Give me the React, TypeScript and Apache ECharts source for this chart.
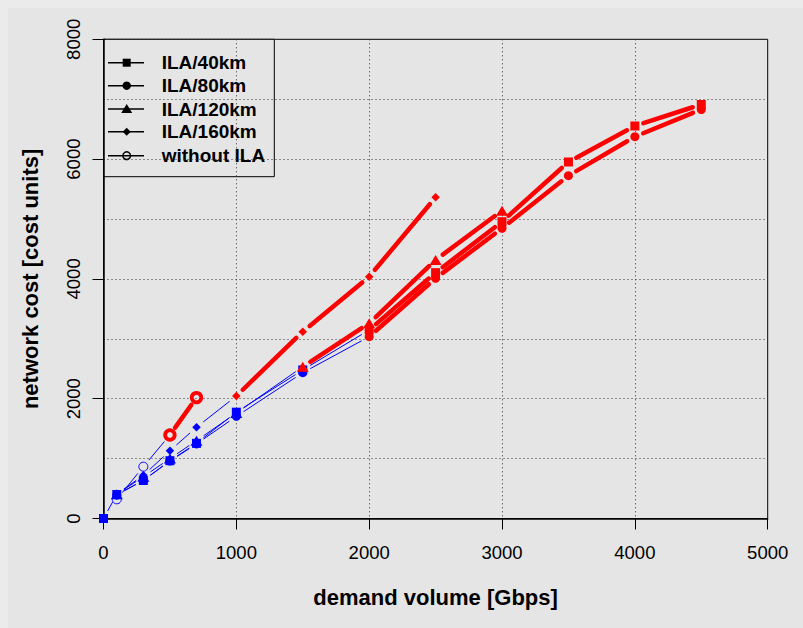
import React, { useEffect, useRef } from "react";
import * as echarts from "echarts";

// ---- data ----
const xTicks = [0, 1000, 2000, 3000, 4000, 5000];
const yTicks = [0, 2000, 4000, 6000, 8000];

const ila40X = [0, 100, 300, 500, 700, 1000, 1500, 2000, 2500, 3000, 3500, 4000, 4500];
const ila40Y = [0, 401, 634, 965, 1255, 1775, 2480, 3147, 4104, 4955, 5952, 6553, 6912];
const ila40Red = [0, 0, 0, 0, 0, 0, 0, 1, 1, 1, 1, 1, 1];

const ila80X = [100, 300, 500, 700, 1000, 1500, 2000, 2500, 3000, 3500, 4000, 4500];
const ila80Y = [390, 640, 958, 1245, 1705, 2434, 3035, 4010, 4845, 5723, 6374, 6828];
const ila80Red = [0, 0, 0, 0, 0, 0, 1, 1, 1, 1, 1, 1];

const ila120X = [100, 300, 500, 700, 1000, 1500, 2000, 2500, 3000];
const ila120Y = [405, 698, 1000, 1300, 1760, 2534, 3259, 4316, 5139];
const ila120Red = [0, 0, 0, 0, 0, 1, 1, 1, 1];

const ila160X = [100, 300, 500, 700, 1000, 1500, 2000, 2500];
const ila160Y = [410, 720, 1132, 1523, 2045, 3118, 4037, 5362];
const ila160Red = [0, 0, 0, 0, 1, 1, 1, 1];

const noIlaX = [100, 300, 500, 700];
const noIlaY = [320, 865, 1395, 2018];
const noIlaRed = [0, 0, 1, 1];

const legendNames = ["ILA/40km", "ILA/80km", "ILA/120km", "ILA/160km", "without ILA"];

const BLUE = "#0000FF";
const RED = "#FF0000";
const BG = "#E5E5E5";
const FONT = '"Liberation Sans", Arial, Helvetica, sans-serif';
const GAP = 9;

type S = { name: string; xs: number[]; ys: number[]; red: number[]; symbol: string; size: any; open?: boolean };

const seriesDefs: S[] = [
  { name: legendNames[4], xs: noIlaX, ys: noIlaY, red: noIlaRed, symbol: "circle", size: 9, open: true },
  { name: legendNames[0], xs: ila40X, ys: ila40Y, red: ila40Red, symbol: "rect", size: 9 },
  { name: legendNames[1], xs: ila80X, ys: ila80Y, red: ila80Red, symbol: "circle", size: 9 },
  { name: legendNames[2], xs: ila120X, ys: ila120Y, red: ila120Red, symbol: "triangle", size: [12, 10] },
  { name: legendNames[3], xs: ila160X, ys: ila160Y, red: ila160Red, symbol: "diamond", size: [8.5, 8.5] },
];

export default function App() {
  const ref = useRef<HTMLDivElement>(null);
  useEffect(() => {
    document.body.style.background = "#EBEBEB";
    document.documentElement.style.overflow = "hidden";
    const chart = echarts.init(ref.current!, undefined, { renderer: "svg" });

    const segs: number[][] = [];
    seriesDefs.forEach((s) => {
      for (let i = 0; i < s.xs.length - 1; i++) {
        segs.push([s.xs[i], s.ys[i], s.xs[i + 1], s.ys[i + 1], s.red[i]]);
      }
    });

    const scatterSeries = seriesDefs.map((s) => ({
      type: "scatter",
      name: s.name,
      z: 3,
      symbol: s.symbol,
      symbolSize: s.open ? undefined : s.size,
      silent: true,
      itemStyle: { opacity: 1 },
      data: s.xs.map((x, i) => {
        const red = s.red[i] === 1;
        if (s.open) {
          return {
            value: [x, s.ys[i]],
            symbolSize: red ? 9.5 : 9,
            itemStyle: { opacity: 1, color: "rgba(0,0,0,0)", borderColor: red ? RED : BLUE, borderWidth: red ? 3.8 : 1 },
          };
        }
        return { value: [x, s.ys[i]], itemStyle: { opacity: 1, color: red ? RED : BLUE } };
      }),
    }));

    const cx = 118.7;
    const rows = [54.7, 77.7, 101, 123.7, 147.7];
    const legendEls: any[] = [
      { type: "rect", shape: { x: 95.5, y: 31.3, width: 170.8, height: 137.4 }, style: { fill: BG, stroke: "#000", lineWidth: 1 } },
    ];
    [0, 1, 2, 3, 4].forEach((k) => {
      const y = rows[k];
      legendEls.push({ type: "line", shape: { x1: 100, y1: y, x2: 136, y2: y }, style: { stroke: "#000", lineWidth: 1.6 } });
      if (k === 0) legendEls.push({ type: "rect", shape: { x: cx - 4, y: y - 4, width: 8, height: 8 }, style: { fill: "#000" } });
      if (k === 1) legendEls.push({ type: "circle", shape: { cx, cy: y, r: 4.2 }, style: { fill: "#000" } });
      if (k === 2) legendEls.push({ type: "polygon", shape: { points: [[cx, y - 5], [cx + 5.5, y + 4], [cx - 5.5, y + 4]] }, style: { fill: "#000" } });
      if (k === 3) legendEls.push({ type: "polygon", shape: { points: [[cx, y - 4], [cx + 4, y], [cx, y + 4], [cx - 4, y]] }, style: { fill: "#000" } });
      if (k === 4) legendEls.push({ type: "circle", shape: { cx, cy: y, r: 3.8 }, style: { fill: "none", stroke: "#000", lineWidth: 1.5 } });
      legendEls.push({
        type: "text",
        style: { text: legendNames[k], x: 153.7, y, fill: "#000", fontSize: 19, fontWeight: "bold", fontFamily: FONT, verticalAlign: "middle", align: "left" },
      });
    });

    const plain = (v: number) => String(v);

    chart.setOption({
      animation: false,
      backgroundColor: BG,
      textStyle: { fontFamily: FONT },
      grid: { left: 95.5, top: 31.3, width: 664.2, height: 479.2, show: true, borderColor: "#000", borderWidth: 1, backgroundColor: "transparent" },
      xAxis: {
        type: "value",
        min: xTicks[0],
        max: xTicks[xTicks.length - 1],
        interval: 1000,
        axisLine: { show: true, lineStyle: { color: "#000", width: 1.5 } },
        axisTick: { show: true, length: 11, lineStyle: { color: "#000", width: 1 } },
        axisLabel: { fontSize: 18.5, color: "#000", margin: 24, fontFamily: FONT, showMinLabel: true, showMaxLabel: true, formatter: plain },
        splitLine: { show: true, lineStyle: { type: [1, 3], color: "#333", width: 1 } },
        name: "demand volume [Gbps]",
        nameLocation: "middle",
        nameGap: 68,
        nameTextStyle: { fontSize: 22, fontWeight: "bold", color: "#000", fontFamily: FONT },
      },
      yAxis: [
        {
          type: "value",
          min: yTicks[0],
          max: yTicks[yTicks.length - 1],
          interval: 2000,
          axisLine: { show: true, lineStyle: { color: "#000", width: 1.5 } },
          axisTick: { show: true, length: 11, lineStyle: { color: "#000", width: 1 } },
          axisLabel: { fontSize: 18.5, color: "#000", margin: 21, rotate: 90, fontFamily: FONT, showMinLabel: true, showMaxLabel: true, formatter: plain },
          splitLine: { show: false },
          name: "network cost [cost units]",
          nameLocation: "middle",
          nameGap: 62,
          nameRotate: 90,
          nameTextStyle: { fontSize: 22, fontWeight: "bold", color: "#000", fontFamily: FONT },
        },
        {
          type: "value",
          min: 0,
          max: 8000,
          interval: 1000,
          position: "left",
          axisLine: { show: false },
          axisTick: { show: false },
          axisLabel: { show: false },
          splitLine: { show: true, lineStyle: { type: [1, 3], color: "#333", width: 1 } },
        },
      ],
      graphic: [{ type: "group", z: 100, children: legendEls }],
      series: [
        {
          type: "custom",
          z: 2,
          silent: true,
          encode: { x: [0, 2], y: [1, 3] },
          data: segs,
          renderItem: (params: any, api: any) => {
            const p0 = api.coord([api.value(0), api.value(1)]);
            const p1 = api.coord([api.value(2), api.value(3)]);
            const red = api.value(4) === 1;
            const dx = p1[0] - p0[0];
            const dy = p1[1] - p0[1];
            const len = Math.sqrt(dx * dx + dy * dy);
            if (len <= 2 * GAP) return null;
            const ux = dx / len;
            const uy = dy / len;
            return {
              type: "line",
              shape: { x1: p0[0] + ux * GAP, y1: p0[1] + uy * GAP, x2: p1[0] - ux * GAP, y2: p1[1] - uy * GAP },
              style: { stroke: red ? RED : BLUE, lineWidth: red ? 4.5 : 1, lineCap: "round" },
            };
          },
        },
        ...scatterSeries,
      ],
    });
    return () => chart.dispose();
  }, []);
  return <div ref={ref} style={{ position: "absolute", left: 8, top: 8, width: 795, height: 620 }} />;
}
